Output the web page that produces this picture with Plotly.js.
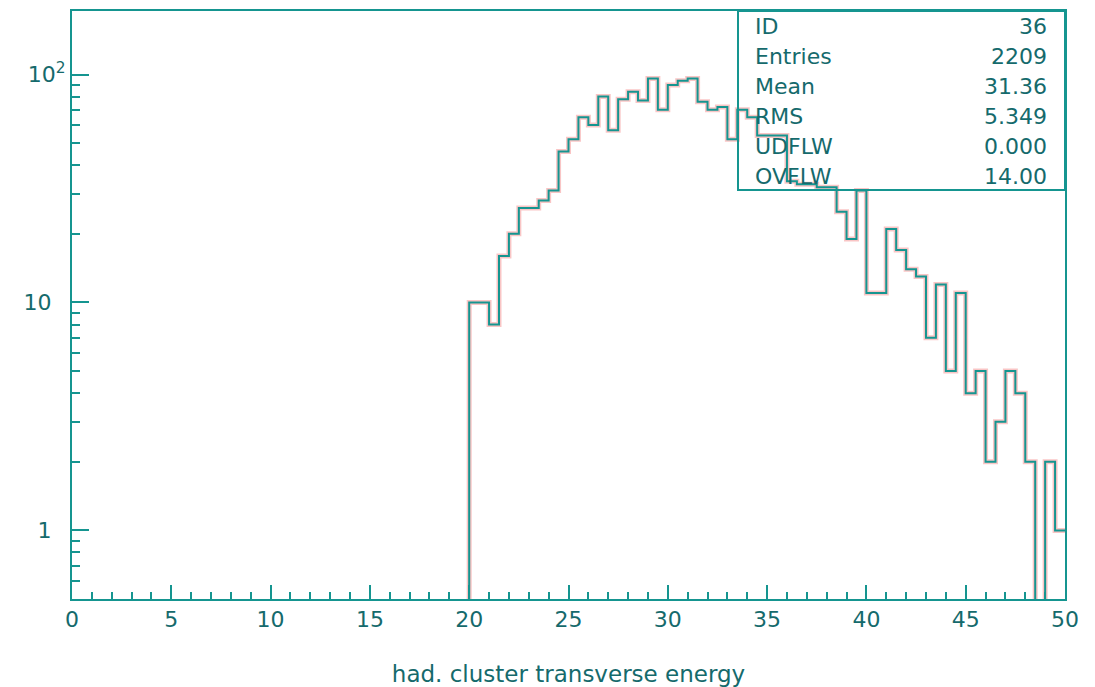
<!DOCTYPE html>
<html>
<head>
<meta charset="utf-8">
<script src="https://cdn.plot.ly/plotly-3.0.1.min.js"></script>
<style>html,body{margin:0;padding:0;background:#fff}#chart{width:1095px;height:687px}</style>
</head>
<body>
<div id="chart"></div>
<script>
// ---- data ----
const binWidth = 0.5;
const xStart = 0;
const counts = [
  0,0,0,0,0,0,0,0,0,0,
  0,0,0,0,0,0,0,0,0,0,
  0,0,0,0,0,0,0,0,0,0,
  0,0,0,0,0,0,0,0,0,0,
  10,10,8,16,20,26,26,28,31,46,
  52,65,60,80,57,78,84,77,96,70,
  90,94,96,76,70,72,52,70,65,54,
  54,54,34,33,33,32,32,25,19,31,
  11,11,21,17,14,13,7,12,5,11,
  4,5,2,3,5,4,2,0,2,1
];
const statLabels = ['ID','Entries','Mean','RMS','UDFLW','OVFLW'];
const statValues = ['36','2209','31.36','5.349','0.000','14.00'];
const xTickVals = [0,5,10,15,20,25,30,35,40,45,50];
const yTickVals = [1,10,100];
const yTickText = ['1\u00a0\u00a0','10\u00a0\u00a0','10<sup>2</sup>'];
const yMinorVals = [0.6,0.7,0.8,0.9,2,3,4,5,6,7,8,9,20,30,40,50,60,70,80,90];
const xTitle = 'had. cluster transverse energy';

// ---- build step line ----
const xs = counts.map((c,i)=>xStart+i*binWidth).concat([xStart+counts.length*binWidth]);
const ys = counts.concat([counts[counts.length-1]]).map(c=> c>0 ? c : 1e-3);

const lc = '#159590';
const tc = '#156a6c';
const halo = 'rgba(240,110,110,0.40)';

const traces = [
  {x:xs, y:ys, type:'scatter', mode:'lines', line:{shape:'hv', color:halo, width:5}, hoverinfo:'skip'},
  {x:xs, y:ys, type:'scatter', mode:'lines', line:{shape:'hv', color:lc, width:2}}
];

// stats box geometry (paper coords)
const boxX0 = 0.6707, boxY0 = 0.6956;
const rowY = [0.974, 0.923, 0.872, 0.821, 0.770, 0.719];
const annotations = [];
statLabels.forEach((s,i)=>{
  annotations.push({xref:'paper',yref:'paper',x:0.686,y:rowY[i],text:s,showarrow:false,xanchor:'left',yanchor:'middle',font:{size:22,color:tc}});
  annotations.push({xref:'paper',yref:'paper',x:0.984,y:rowY[i],text:statValues[i],showarrow:false,xanchor:'right',yanchor:'middle',font:{size:22,color:tc}});
});

const layout = {
  width:1095, height:687,
  margin:{l:72, r:30, t:11, b:88},
  paper_bgcolor:'#fff', plot_bgcolor:'#fff',
  showlegend:false,
  font:{family:'DejaVu Sans, sans-serif', size:22, color:tc},
  xaxis:{
    range:[0,50], tickmode:'array', tickvals:xTickVals,
    ticks:'inside', ticklen:14, tickwidth:2, tickcolor:lc,
    showline:true, linecolor:lc, linewidth:2, mirror:true,
    showgrid:false, zeroline:false,
    minor:{dtick:1, tick0:0, ticks:'inside', ticklen:7, tickwidth:2, tickcolor:lc, showgrid:false},
    tickfont:{size:22, color:tc},
    title:{text:xTitle, standoff:36, font:{size:23, color:tc}},
    automargin:false
  },
  yaxis:{
    type:'log', range:[Math.log10(0.5), Math.log10(190)],
    tickmode:'array', tickvals:yTickVals, ticktext:yTickText,
    ticks:'inside', ticklen:17, tickwidth:2, tickcolor:lc,
    showline:true, linecolor:lc, linewidth:2, mirror:true,
    showgrid:false, zeroline:false,
    minor:{tickmode:'array', tickvals:yMinorVals, ticks:'inside', ticklen:8, tickwidth:2, tickcolor:lc, showgrid:false},
    tickfont:{size:22, color:tc},
    automargin:false
  },
  shapes:[
    {type:'rect', xref:'paper', yref:'paper', x0:boxX0, x1:1, y0:boxY0, y1:1, line:{color:lc, width:2}, fillcolor:'rgba(0,0,0,0)'}
  ],
  annotations:annotations
};

Plotly.newPlot('chart', traces, layout, {displayModeBar:false, staticPlot:true});
</script>
</body>
</html>
